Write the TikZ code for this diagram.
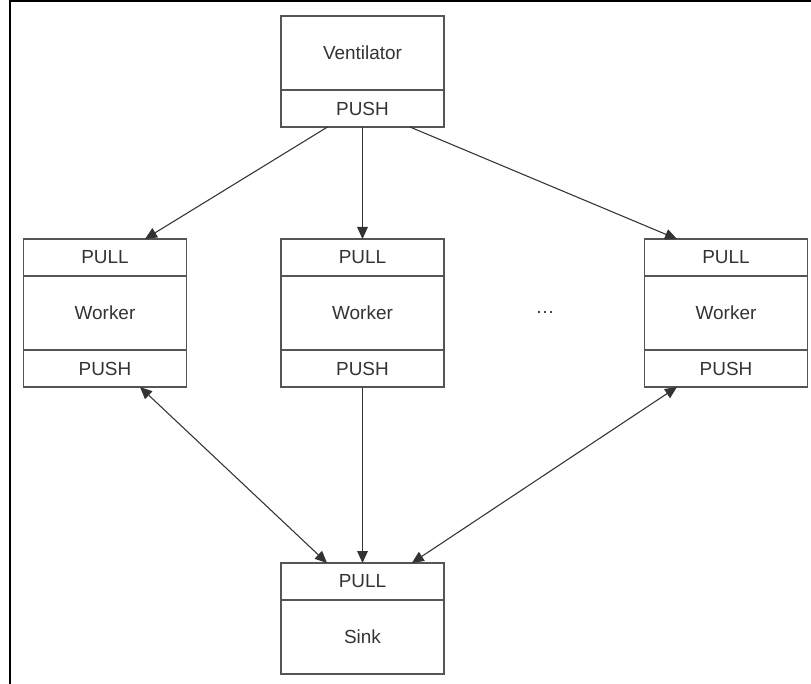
\documentclass[tikz,border=0pt]{standalone}
\usepackage{fontspec}
\setmainfont{Liberation Sans}
\usetikzlibrary{arrows.meta}
\definecolor{boxgray}{HTML}{555555}
\definecolor{arr}{HTML}{333333}
\definecolor{txt}{HTML}{333333}
\begin{document}
\begin{tikzpicture}[x=0.75pt,y=-0.75pt,
  part/.style={draw=boxgray, line width=1.1pt, minimum width=122.5pt, inner sep=0pt, outer sep=0pt,
    font=\fontsize{14.2}{16}\selectfont, text=txt, anchor=north},
  slimpart/.style={part, minimum height=27.75pt},
  mainpart/.style={part, minimum height=55.5pt},
  conn/.style={draw=arr, line width=0.8pt, -{Triangle[length=9pt,width=8pt]}},
  biconn/.style={draw=arr, line width=0.8pt, {Triangle[length=9pt,width=8pt]}-{Triangle[length=9pt,width=8pt]}},
  frame/.style={draw=black, line width=1.5pt}]
\useasboundingbox (0,0) rectangle (811,684);
\fill[white] (0,0) rectangle (811,684);
\draw[frame] (9.5,684) -- (9.5,1.5) -- (811,1.5);

% Ventilator
\node[mainpart] (vent) at (362.5,16) {Ventilator};
\node[slimpart] (vpush) at (vent.south) {PUSH};

% Workers
\node[slimpart] (w1pull) at (105,239) {PULL};
\node[mainpart] (w1) at (w1pull.south) {Worker};
\node[slimpart] (w1push) at (w1.south) {PUSH};

\node[slimpart] (w2pull) at (362.5,239) {PULL};
\node[mainpart] (w2) at (w2pull.south) {Worker};
\node[slimpart] (w2push) at (w2.south) {PUSH};

\node[slimpart] (w3pull) at (726,239) {PULL};
\node[mainpart] (w3) at (w3pull.south) {Worker};
\node[slimpart] (w3push) at (w3.south) {PUSH};

\node[font=\fontsize{14.2}{16}\selectfont, text=txt] (dots) at (545,312) {…};

% Sink
\node[slimpart] (spull) at (362.5,563) {PULL};
\node[mainpart] (sink) at (spull.south) {Sink};

% Connectors
\draw[conn] ([xshift=-26.25pt]vpush.south) -- ([xshift=30pt]w1pull.north);
\draw[conn] (vpush.south) -- (w2pull.north);
\draw[conn] ([xshift=35.6pt]vpush.south) -- ([xshift=-36.75pt]w3pull.north);

\draw[biconn] ([xshift=26.25pt]w1push.south) -- ([xshift=-26.6pt]spull.north);
\draw[conn] (w2push.south) -- (spull.north);
\draw[biconn] ([xshift=-36.75pt]w3push.south) -- ([xshift=37pt]spull.north);
\end{tikzpicture}
\end{document}
